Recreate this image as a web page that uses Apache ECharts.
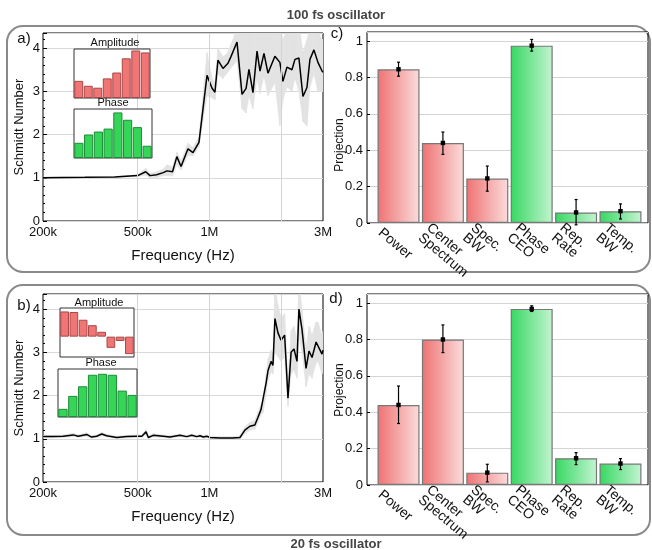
<!DOCTYPE html>
<html>
<head>
<meta charset="utf-8">
<script src="https://cdn.jsdelivr.net/npm/echarts@6/dist/echarts.min.js"></script>
<style>
  html, body { margin: 0; padding: 0; background: #fff; }
  #chart { width: 652px; height: 550px; }
</style>
</head>
<body>
<div id="chart"></div>
<script>
const FONT = '"Liberation Sans", Arial, sans-serif';

// ---- panel a) 100 fs oscillator, Schmidt number vs frequency (kHz) ----
const freqA = [200, 300, 400, 500, 540, 563, 600, 640, 663, 700, 730, 760, 813, 853, 904, 977,
  1026, 1055, 1086, 1140, 1197, 1233, 1256, 1306, 1371, 1426, 1466, 1524, 1585, 1631, 1695, 1762,
  1884, 1977, 2036, 2117, 2222, 2287, 2377, 2471, 2569, 2644, 2748, 2857, 2972, 3000];
const schmidtA = [1.00, 1.01, 1.02, 1.05, 1.14, 1.05, 1.07, 1.12, 1.16, 1.14, 1.49, 1.26, 1.67, 1.58, 1.82, 3.37,
  3.07, 2.98, 3.72, 3.53, 3.65, 3.81, 3.84, 4.14, 2.93, 3.07, 3.51, 2.97, 3.93, 3.47, 3.88, 3.42,
  3.81, 3.67, 3.23, 3.56, 3.50, 3.74, 3.77, 2.88, 3.09, 3.74, 3.96, 3.67, 3.47, 3.44];
const lowA = [0.99, 1.00, 1.01, 1.03, 1.06, 1.00, 1.00, 1.05, 1.05, 1.04, 1.30, 1.18, 1.52, 1.50, 1.72, 2.90,
  2.85, 2.80, 3.40, 3.30, 3.45, 3.55, 3.60, 3.70, 2.60, 2.50, 2.90, 2.60, 3.30, 2.95, 3.35, 2.90,
  3.20, 2.20, 2.80, 3.10, 3.00, 3.30, 3.00, 2.30, 2.20, 3.10, 3.40, 3.00, 3.00, 3.00];
const highA = [1.01, 1.02, 1.03, 1.07, 1.22, 1.10, 1.14, 1.20, 1.30, 1.25, 1.60, 1.40, 1.80, 1.70, 1.95, 3.90,
  3.30, 3.20, 4.00, 3.80, 3.90, 4.10, 4.20, 4.50, 4.60, 4.50, 4.60, 4.40, 4.60, 4.50, 4.60, 4.40,
  4.60, 4.50, 4.20, 4.40, 4.30, 4.50, 4.60, 3.90, 4.20, 4.50, 4.60, 4.40, 4.20, 4.20];

// ---- panel b) 20 fs oscillator ----
const freqB = [200, 221, 243, 268, 281, 305, 320, 336, 353, 370, 408, 449, 495, 520, 542, 554, 581, 640, 683, 752,
  803, 843, 885, 913, 942, 975, 1006, 1109, 1250, 1344, 1409, 1479, 1552, 1600, 1648, 1680, 1730, 1763, 1815, 1849,
  1885, 1941, 1999, 2070, 2138, 2203, 2266, 2333, 2377, 2449, 2546, 2620, 2699, 2806, 2857, 2971, 3000];
const schmidtB = [1.05, 1.05, 1.06, 1.09, 1.06, 1.10, 1.04, 1.06, 1.11, 1.07, 1.03, 1.05, 1.06, 1.06, 1.16, 1.03, 1.08, 1.06, 1.04, 1.08,
  1.05, 1.08, 1.05, 1.07, 1.04, 1.06, 1.03, 1.02, 1.02, 1.03, 1.20, 1.29, 1.32, 1.50, 1.68, 1.72, 2.29, 2.58, 2.79, 2.70,
  3.78, 3.45, 3.28, 3.40, 1.94, 3.00, 3.08, 2.79, 4.00, 3.53, 2.63, 3.03, 2.88, 3.24, 3.24, 2.96, 3.05];
const lowB = [1.02, 1.02, 1.03, 1.05, 1.03, 1.06, 1.01, 1.03, 1.07, 1.04, 1.00, 1.02, 1.03, 1.03, 1.10, 1.00, 1.04, 1.03, 1.01, 1.05,
  1.02, 1.05, 1.02, 1.04, 1.01, 1.03, 1.00, 0.99, 0.99, 1.00, 1.12, 1.20, 1.22, 1.38, 1.55, 1.60, 2.05, 2.35, 2.55, 2.50,
  3.00, 2.90, 2.80, 2.90, 1.75, 2.50, 2.60, 2.40, 3.40, 3.00, 2.20, 2.50, 2.40, 2.75, 2.80, 2.50, 2.55];
const highB = [1.08, 1.08, 1.09, 1.13, 1.09, 1.14, 1.07, 1.09, 1.15, 1.10, 1.06, 1.08, 1.09, 1.09, 1.22, 1.06, 1.12, 1.09, 1.07, 1.11,
  1.08, 1.11, 1.08, 1.10, 1.07, 1.09, 1.06, 1.05, 1.05, 1.07, 1.28, 1.38, 1.42, 1.62, 1.80, 1.85, 2.50, 2.85, 3.05, 2.95,
  4.50, 4.10, 3.80, 3.90, 2.30, 3.50, 3.60, 3.30, 4.60, 4.00, 3.10, 3.60, 3.40, 3.70, 3.70, 3.40, 3.50];

// x tick labels of the frequency axes (kHz)
const freqTicks = [200, 500, 1000, 3000];
const freqGrid = [500, 1000, 2000];

// ---- panels c) and d): projections ----
const categories = ['Power', 'Center\nSpectrum', 'Spec.\nBW', 'Phase\nCEO', 'Rep.\nRate', 'Temp.\nBW'];
const projC = [0.845, 0.44, 0.245, 0.975, 0.058, 0.065];
const errLoC = [0.807, 0.377, 0.175, 0.945, -0.01, 0.022];
const errHiC = [0.884, 0.50, 0.313, 1.009, 0.129, 0.105];
const projD = [0.44, 0.80, 0.068, 0.968, 0.147, 0.118];
const errLoD = [0.338, 0.728, 0.017, 0.954, 0.112, 0.085];
const errHiD = [0.544, 0.88, 0.114, 0.985, 0.178, 0.145];

// ---- insets (mode shapes) ----
const ampA = [0.35, 0.25, 0.21, 0.40, 0.52, 0.81, 0.97, 0.93];
const phaseA = [0.31, 0.48, 0.54, 0.60, 0.93, 0.78, 0.63, 0.25];
const ampB = [0.88, 0.86, 0.59, 0.40, 0.17, -0.39, -0.15, -0.61];
const phaseB = [0.17, 0.44, 0.64, 0.88, 0.90, 0.88, 0.55, 0.46];

const LABEL_SHIFT = 0.42; // category labels start left of the bar centre

const chart = echarts.init(document.getElementById('chart'));

const redGrad = new echarts.graphic.LinearGradient(0, 0, 1, 0, [
  { offset: 0, color: '#ef7272' }, { offset: 1, color: '#fbdcdc' }]);
const greenGrad = new echarts.graphic.LinearGradient(0, 0, 1, 0, [
  { offset: 0, color: '#36d862' }, { offset: 1, color: '#c4f4d1' }]);

const grids = [
  { left: 43, top: 33, width: 280, height: 188 },   // a
  { left: 367, top: 32, width: 281, height: 191 },  // c
  { left: 43, top: 294, width: 280, height: 188 },  // b
  { left: 367, top: 294, width: 281, height: 191 }, // d
  { left: 74, top: 49, width: 76, height: 49 },     // a amplitude
  { left: 74, top: 109, width: 78, height: 49 },    // a phase
  { left: 60, top: 308, width: 74, height: 49 },    // b amplitude
  { left: 58, top: 369, width: 79, height: 48 }     // b phase
].map((g, i) => Object.assign(g, {
  show: true,
  borderColor: i < 4 ? '#000' : '#333',
  borderWidth: 1,
  backgroundColor: i < 4 ? 'transparent' : '#fff',
  z: i < 4 ? 0 : 10
}));

const xAxes = [];
const yAxes = [];
const series = [];

function freqAxes(gi) {
  xAxes[gi] = {
    gridIndex: gi, type: 'log', logBase: 10, min: 200, max: 3000,
    axisLine: { show: false }, axisTick: { show: false }, splitLine: { show: false },
    axisLabel: {
      customValues: freqTicks, fontSize: 13, color: '#111', fontFamily: FONT, margin: 5,
      formatter: v => v >= 1000 ? (v / 1000) + 'M' : v + 'k'
    },
    name: 'Frequency (Hz)', nameLocation: 'middle', nameGap: 27,
    nameTextStyle: { fontSize: 15, color: '#111', fontFamily: FONT }
  };
  yAxes[gi] = {
    gridIndex: gi, type: 'value', min: 0, max: 4.35, interval: 1,
    axisLine: { show: false, onZero: false },
    axisTick: { show: true, inside: true, length: 4, lineStyle: { color: '#000' } },
    minorTick: { show: true, splitNumber: 5, length: 2, lineStyle: { color: '#000' } },
    axisLabel: { showMaxLabel: false, fontSize: 13, color: '#111', fontFamily: FONT, margin: 3 },
    splitLine: { lineStyle: { color: '#d9d9d9', width: 1 } },
    name: 'Schmidt Number', nameLocation: 'middle', nameGap: 17,
    nameTextStyle: { fontSize: 13, color: '#111', fontFamily: FONT }
  };
}

function freqSeries(gi, freq, vals, lo, hi) {
  // uncertainty band: one quad per interval between neighbouring samples
  series.push({
    type: 'custom', xAxisIndex: gi, yAxisIndex: gi, silent: true, clip: true, z: 1,
    encode: { x: 0, y: [1, 2] },
    data: freq.slice(0, -1).map((f, i) => [f, lo[i], hi[i], freq[i + 1], lo[i + 1], hi[i + 1]]),
    renderItem: (params, api) => {
      const a = api.coord([api.value(0), api.value(1)]);
      const b = api.coord([api.value(3), api.value(4)]);
      const c = api.coord([api.value(3), api.value(5)]);
      const d = api.coord([api.value(0), api.value(2)]);
      const cs = params.coordSys;
      return {
        type: 'polygon',
        shape: { points: [a, b, c, d] },
        style: { fill: '#e3e3e3', stroke: '#e3e3e3', lineWidth: 0.6 },
        clipPath: { type: 'rect', shape: { x: cs.x, y: cs.y, width: cs.width, height: cs.height } }
      };
    }
  });
  series.push({
    type: 'line', xAxisIndex: gi, yAxisIndex: gi, symbol: 'none',
    lineStyle: { color: '#000', width: 1.5 },
    data: freq.map((f, i) => [f, vals[i]]), z: 3,
    markLine: {
      silent: true, symbol: 'none', label: { show: false },
      lineStyle: { color: '#d4d4d4', width: 1, type: 'solid' },
      data: freqGrid.map(f => ({ xAxis: f }))
    }
  });
}

function projAxes(gi) {
  xAxes[gi] = {
    gridIndex: gi, type: 'value', min: -0.71, max: 5.62,
    axisLine: { show: false, onZero: false }, splitLine: { show: false }, axisTick: { show: false },
    axisLabel: {
      customValues: categories.map((c, i) => i - LABEL_SHIFT),
      formatter: v => categories[Math.round(v + LABEL_SHIFT)],
      rotate: -40, fontSize: 14, lineHeight: 13, color: '#111', fontFamily: FONT, margin: 8
    }
  };
  yAxes[gi] = {
    gridIndex: gi, type: 'value', min: 0, max: 1.05, interval: 0.2,
    axisLine: { show: false, onZero: false },
    axisTick: { show: true, inside: true, length: 3, lineStyle: { color: '#000' } },
    axisLabel: { showMaxLabel: false, fontSize: 13, color: '#111', fontFamily: FONT, margin: 4 },
    splitLine: { lineStyle: { color: '#d4d4d4', width: 1.2 } }
  };
}

function projSeries(gi, vals, lo, hi) {
  series.push({
    type: 'bar', xAxisIndex: gi, yAxisIndex: gi, barWidth: 42,
    data: vals.map((v, i) => ({
      value: [i, v],
      itemStyle: { color: i < 3 ? redGrad : greenGrad, borderColor: '#777', borderWidth: 1.2 }
    }))
  });
  series.push({
    type: 'custom', xAxisIndex: gi, yAxisIndex: gi, z: 5,
    encode: { x: 0, y: [1, 2] },
    data: vals.map((v, i) => [i, lo[i], hi[i], v]),
    renderItem: (params, api) => {
      const pLo = api.coord([api.value(0), api.value(1)]);
      const pHi = api.coord([api.value(0), api.value(2)]);
      const pM = api.coord([api.value(0), api.value(3)]);
      const st = { stroke: '#000', lineWidth: 1.2 };
      return {
        type: 'group', children: [
          { type: 'line', shape: { x1: pLo[0], y1: pLo[1], x2: pHi[0], y2: pHi[1] }, style: st },
          { type: 'line', shape: { x1: pLo[0] - 1.5, y1: pLo[1], x2: pLo[0] + 1.5, y2: pLo[1] }, style: st },
          { type: 'line', shape: { x1: pHi[0] - 1.5, y1: pHi[1], x2: pHi[0] + 1.5, y2: pHi[1] }, style: st },
          { type: 'rect', shape: { x: pM[0] - 2.2, y: pM[1] - 2.2, width: 4.4, height: 4.4 }, style: { fill: '#000' } }
        ]
      };
    }
  });
}

function insetAxes(gi, min, max) {
  xAxes[gi] = {
    gridIndex: gi, type: 'category', data: [1, 2, 3, 4, 5, 6, 7, 8], z: 10,
    axisLine: { show: false }, axisTick: { show: false }, axisLabel: { show: false }, splitLine: { show: false }
  };
  yAxes[gi] = {
    gridIndex: gi, type: 'value', min: min, max: max, z: 10,
    axisLine: { show: false }, axisTick: { show: false }, axisLabel: { show: false }, splitLine: { show: false }
  };
}

function insetSeries(gi, vals, fill, border) {
  series.push({
    type: 'bar', xAxisIndex: gi, yAxisIndex: gi, data: vals, z: 11, barCategoryGap: '6%',
    itemStyle: { color: fill, borderColor: border, borderWidth: 1 }, silent: true
  });
}

freqAxes(0); freqSeries(0, freqA, schmidtA, lowA, highA);
projAxes(1); projSeries(1, projC, errLoC, errHiC);
freqAxes(2); freqSeries(2, freqB, schmidtB, lowB, highB);
projAxes(3); projSeries(3, projD, errLoD, errHiD);
insetAxes(4, 0, 1.0); insetSeries(4, ampA, '#f07575', '#a84848');
insetAxes(5, 0, 1.0); insetSeries(5, phaseA, '#35d657', '#1f8a3a');
insetAxes(6, -0.71, 1.0); insetSeries(6, ampB, '#f07575', '#a84848');
insetAxes(7, 0, 1.0); insetSeries(7, phaseB, '#35d657', '#1f8a3a');

function txt(x, y, text, size, extra) {
  return {
    type: 'text', x: x, y: y, z: 20, silent: true,
    style: Object.assign({
      text: text, fill: '#111', font: size + 'px ' + FONT, align: 'center', verticalAlign: 'middle'
    }, extra || {})
  };
}

const graphics = [
  { type: 'rect', z: -1, silent: true, shape: { x: 7, y: 26, width: 643, height: 246, r: 16 },
    style: { fill: 'none', stroke: '#8a8a8a', lineWidth: 2 } },
  { type: 'rect', z: -1, silent: true, shape: { x: 7, y: 285, width: 643, height: 250, r: 16 },
    style: { fill: 'none', stroke: '#8a8a8a', lineWidth: 2 } },
  txt(336, 15, '100 fs oscillator', 13, { fill: '#444', font: 'bold 13px ' + FONT }),
  txt(336, 544, '20 fs oscillator', 13, { fill: '#444', font: 'bold 13px ' + FONT }),
  txt(24, 39, 'a)', 15),
  txt(24, 306, 'b)', 15),
  txt(337, 34, 'c)', 15),
  txt(336, 299, 'd)', 15),
  txt(115, 43, 'Amplitude', 11),
  txt(113, 103, 'Phase', 11),
  txt(99, 303, 'Amplitude', 11),
  txt(101, 363, 'Phase', 11),
  Object.assign(txt(340, 145, 'Projection', 12), { rotation: Math.PI / 2 }),
  Object.assign(txt(340, 390, 'Projection', 12), { rotation: Math.PI / 2 })
];

chart.setOption({
  animation: false,
  backgroundColor: '#fff',
  textStyle: { fontFamily: FONT },
  grid: grids,
  xAxis: xAxes,
  yAxis: yAxes,
  series: series,
  graphic: graphics
});
</script>
</body>
</html>
